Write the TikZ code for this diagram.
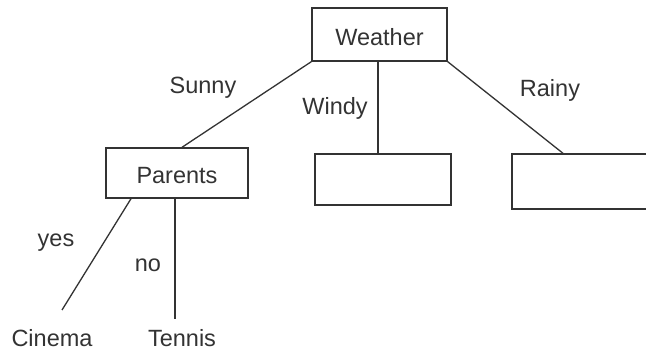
\documentclass[tikz,border=0pt]{standalone}
\usepackage{fontspec}
\setmainfont{Liberation Sans}
\usetikzlibrary{calc}
\begin{document}
\begin{tikzpicture}[x=1pt,y=-1pt,
  every node/.style={font=\fontsize{23.5}{26}\selectfont, text=black!80},
  box/.style={draw=black!80, line width=1.4pt, rectangle, inner sep=0pt},
  edge/.style={draw=black!80, line width=1.3pt},
  lbl/.style={inner sep=0pt}]
\useasboundingbox (0,0) rectangle (646,352);
\fill[white] (0,0) rectangle (646,352);

% tree boxes
\node[box, minimum width=135pt, minimum height=53pt] (weather) at (379.5,34.5) {};
\node[box, minimum width=142pt, minimum height=50pt] (parents) at (177,173) {};
\node[box, minimum width=136pt, minimum height=51pt] (windy) at (383,179.5) {};
\node[box, minimum width=136pt, minimum height=55pt] (rainy) at (580,181.5) {};
\node[lbl] (weatherT) at ($(weather.center)+(0,2.5)$) {Weather};
\node[lbl] (parentsT) at ($(parents.center)+(0,2.5)$) {Parents};

% leaves
\node[lbl] (cinema) at (52,338) {Cinema};
\node[lbl] (tennis) at (182,338) {Tennis};
\coordinate (cinemaEnd) at (62,310);
\coordinate (tennisEnd) at (175,319);

% edge labels
\node[lbl] (sunny) at (203,88) {Sunny};
\node[lbl] (windyL) at (335,108) {Windy};
\node[lbl] (rainyL) at (550,90) {Rainy};
\node[lbl] (yes) at (56,243) {yes};
\node[lbl] (no) at (148,265) {no};

% branches
\draw[edge] (weather.south west) -- ($(parents.north)+(5,0)$);
\draw[edge] ($(weather.south)+(-1.5,0)$) -- ($(windy.north)+(-5,0)$);
\draw[edge] (weather.south east) -- ($(rainy.north)+(-17,0)$);
\draw[edge] ($(parents.south)+(-46,0)$) -- (cinemaEnd);
\draw[edge] ($(parents.south)+(-2,0)$) -- (tennisEnd);
\end{tikzpicture}
\end{document}
